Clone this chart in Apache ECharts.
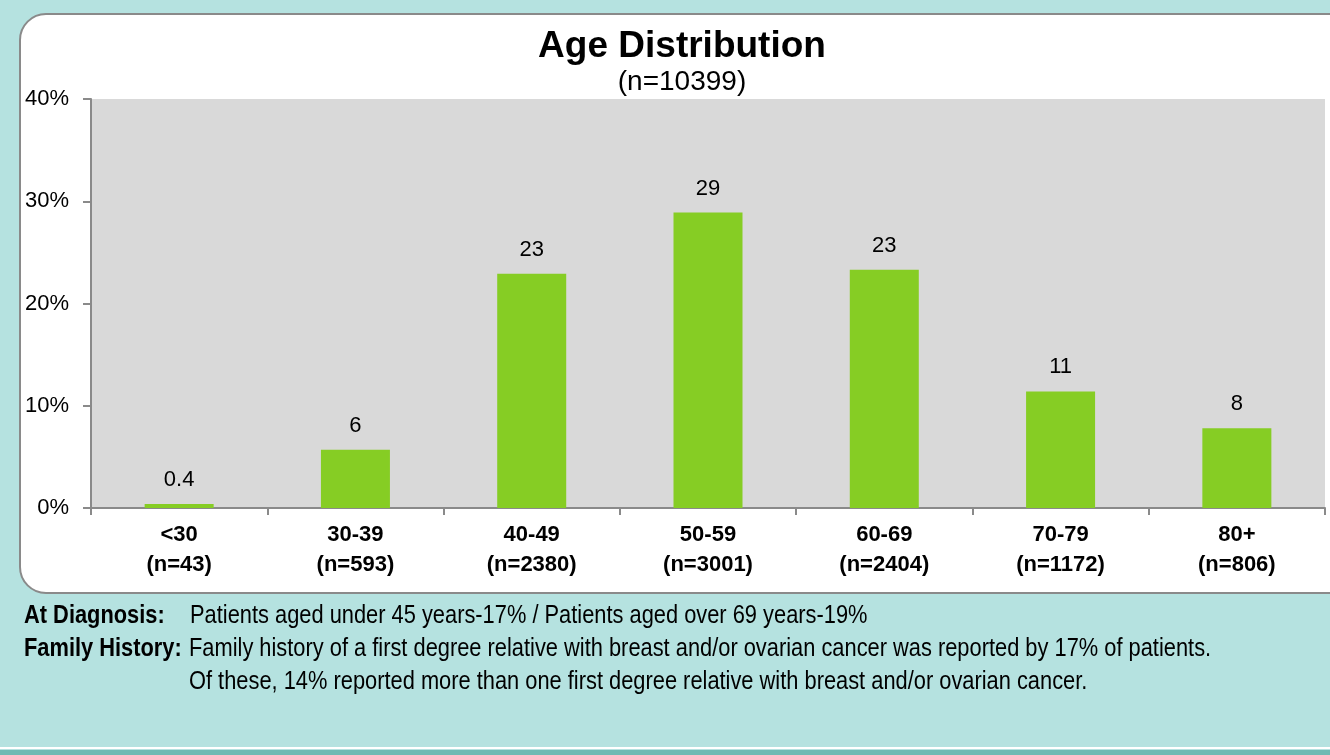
<!DOCTYPE html>
<html>
<head>
<meta charset="utf-8">
<script src="https://cdn.jsdelivr.net/npm/echarts@6/dist/echarts.min.js"></script>
<style>
html,body{margin:0;padding:0;background:#b5e2e0;}
#chart{width:1330px;height:755px;}
</style>
</head>
<body>
<div id="chart"></div>
<script>
const categories = ['<30', '30-39', '40-49', '50-59', '60-69', '70-79', '80+'];
const counts = [43, 593, 2380, 3001, 2404, 1172, 806];
const percentValues = [0.4, 5.7, 22.9, 28.9, 23.3, 11.4, 7.8];
const valueLabels = ['0.4', '6', '23', '29', '23', '11', '8'];
const yTicks = [0, 10, 20, 30, 40];
const titleText = 'Age Distribution';
const subtitleText = '(n=10399)';
const footLabels = ['At Diagnosis:', 'Family History:'];
const footLines = [
  'Patients aged under 45 years-17% / Patients aged over 69 years-19%',
  'Family history of a first degree relative with breast and/or ovarian cancer was reported by 17% of patients.',
  'Of these, 14% reported more than one first degree relative with breast and/or ovarian cancer.'
];

const FONT = '"Liberation Sans", Arial, sans-serif';
const NARROW = 0.84;

function footText(x, y, text, bold) {
  return {
    type: 'text', silent: true, x: x, y: y, scaleX: NARROW, scaleY: 1,
    style: {
      text: text, x: 0, y: 0,
      font: (bold ? 'bold ' : '') + '26px ' + FONT,
      fill: '#000', verticalAlign: 'top', align: 'left'
    }
  };
}

const chart = echarts.init(document.getElementById('chart'), null, {renderer: 'canvas'});

const option = {
  backgroundColor: '#b5e2e0',
  animation: false,
  graphic: [
    {
      type: 'rect', z: -10, silent: true,
      shape: {x: 20, y: 14, width: 1340, height: 579, r: 26},
      style: {fill: '#ffffff', stroke: '#8a8a8a', lineWidth: 2}
    },
    {
      type: 'rect', z: -10, silent: true,
      shape: {x: 0, y: 747, width: 1330, height: 2},
      style: {fill: '#ffffff'}
    },
    {
      type: 'rect', z: -10, silent: true,
      shape: {x: 0, y: 750, width: 1330, height: 5},
      style: {fill: '#6fbab3'}
    },
    footText(24, 603, footLabels[0], true),
    footText(190, 603, footLines[0], false),
    footText(24, 636, footLabels[1], true),
    footText(189, 636, footLines[1], false),
    footText(189, 669, footLines[2], false)
  ],
  title: {
    text: titleText,
    subtext: subtitleText,
    left: 677,
    textAlign: 'center',
    top: 23,
    itemGap: 3,
    textStyle: {fontFamily: FONT, fontWeight: 'bold', fontSize: 37, color: '#000'},
    subtextStyle: {fontFamily: FONT, fontSize: 28, color: '#000'}
  },
  grid: {
    left: 91, right: 5, top: 99, bottom: 247,
    show: true, backgroundColor: '#d9d9d9', borderWidth: 0
  },
  xAxis: {
    type: 'category',
    data: categories.map((c, i) => c + '\n(n=' + counts[i] + ')'),
    axisLine: {show: true, lineStyle: {color: '#8a8a8a', width: 2}},
    axisTick: {show: true, alignWithLabel: false, length: 7, lineStyle: {color: '#8a8a8a', width: 2}},
    axisLabel: {
      interval: 0, margin: 12,
      fontFamily: FONT, fontWeight: 'bold', fontSize: 22, lineHeight: 30, color: '#000'
    }
  },
  yAxis: {
    type: 'value',
    min: 0, max: 40, interval: 10,
    axisLine: {show: true, lineStyle: {color: '#8a8a8a', width: 2}},
    axisTick: {show: true, inside: false, length: 8, lineStyle: {color: '#8a8a8a', width: 2}},
    splitLine: {show: false},
    axisLabel: {
      margin: 22,
      fontFamily: FONT, fontSize: 22, color: '#000',
      formatter: v => yTicks.indexOf(v) >= 0 ? v + '%' : ''
    }
  },
  series: [{
    type: 'bar',
    data: percentValues,
    barWidth: 69,
    itemStyle: {color: '#86cd24'},
    label: {
      show: true, position: 'top', distance: 13,
      fontFamily: FONT, fontSize: 22, color: '#000',
      formatter: p => valueLabels[p.dataIndex]
    }
  }]
};
chart.setOption(option);
</script>
</body>
</html>
